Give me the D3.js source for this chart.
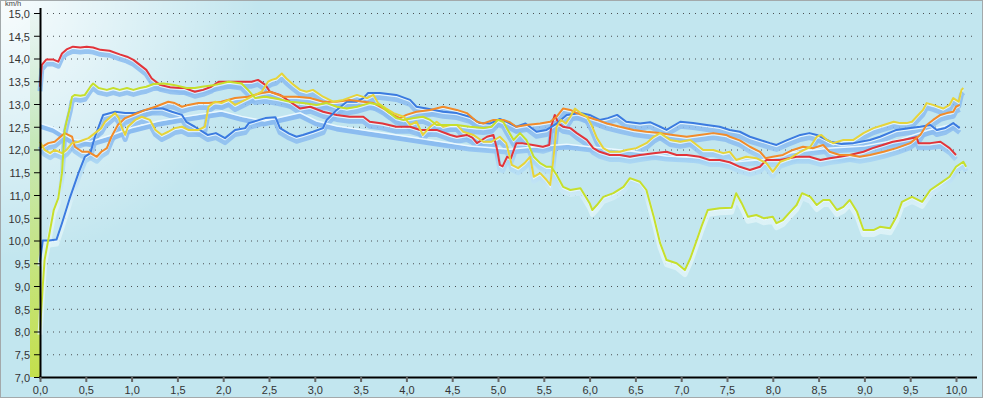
<!DOCTYPE html>
<html>
<head>
<meta charset="utf-8">
<script src="https://cdn.jsdelivr.net/npm/d3@7"></script>
<style>
  body { margin: 0; background: #c2e6ef; }
  svg { display: block; font-family: "Liberation Sans", Arial, sans-serif; }
</style>
</head>
<body>
<svg width="983" height="398"></svg>
<script>
// km vs km/h, one array of [km, speed] per lap
var red = [
  [0,13.38],[0.02,13.86],[0.07,13.98],[0.14,13.98],[0.2,13.93],[0.24,14.11],[0.29,14.2],[0.36,14.26],[0.44,14.24],[0.51,14.26],
  [0.58,14.24],[0.66,14.19],[0.76,14.17],[0.87,14.09],[0.95,14.04],[1.02,13.97],[1.09,13.86],[1.16,13.75],[1.22,13.56],[1.31,13.42],
  [1.42,13.37],[1.53,13.35],[1.58,13.35],[1.69,13.27],[1.78,13.31],[1.87,13.38],[1.95,13.49],[2.13,13.49],[2.31,13.49],[2.38,13.53],
  [2.46,13.42],[2.51,13.27],[2.62,13.2],[2.73,13.05],[2.84,12.9],[2.95,12.94],[3.09,12.83],[3.24,12.76],[3.38,12.72],[3.53,12.72],
  [3.6,12.61],[3.74,12.57],[3.89,12.5],[4.04,12.5],[4.15,12.43],[4.33,12.43],[4.48,12.32],[4.55,12.28],[4.66,12.32],[4.72,12.26],
  [4.77,12.14],[4.88,12.28],[4.95,12.32],[4.99,12.0],[5.02,11.66],[5.05,11.63],[5.1,11.84],[5.14,11.8],[5.2,12.14],[5.26,12.14],
  [5.38,12.1],[5.49,12.06],[5.56,12.1],[5.58,12.5],[5.62,12.76],[5.66,12.57],[5.71,12.5],[5.79,12.47],[5.86,12.36],[5.97,12.21],
  [6.04,12.03],[6.11,11.95],[6.22,11.88],[6.33,11.88],[6.44,11.84],[6.55,11.88],[6.7,11.92],[6.84,11.95],[6.95,11.88],[7.06,11.88],
  [7.2,11.84],[7.31,11.77],[7.42,11.77],[7.53,11.72],[7.64,11.62],[7.75,11.55],[7.86,11.62],[7.93,11.77],[8.08,11.77],[8.26,11.84],
  [8.4,11.84],[8.52,11.77],[8.62,11.81],[8.73,11.84],[8.84,11.88],[8.99,11.95],[9.09,12.03],[9.2,12.1],[9.31,12.17],[9.42,12.21],
  [9.57,12.27],[9.59,12.14],[9.72,12.14],[9.83,12.17],[9.93,12.03],[10.0,11.88]
];

var blue = [
  [0,9.53],[0.03,10.0],[0.1,10.0],[0.18,10.02],[0.24,10.38],[0.33,10.96],[0.42,11.48],[0.49,11.84],[0.55,11.92],[0.6,12.28],
  [0.69,12.76],[0.82,12.83],[0.93,12.8],[1.04,12.8],[1.12,12.85],[1.22,12.9],[1.34,12.9],[1.44,12.83],[1.55,12.76],[1.6,12.6],
  [1.69,12.5],[1.83,12.32],[1.92,12.36],[2.02,12.25],[2.13,12.43],[2.24,12.47],[2.28,12.58],[2.46,12.69],[2.57,12.71],[2.62,12.47],
  [2.72,12.35],[2.8,12.28],[2.87,12.32],[2.98,12.39],[3.09,12.47],[3.13,12.65],[3.24,12.87],[3.35,13.05],[3.46,13.05],[3.53,13.13],
  [3.58,13.24],[3.71,13.24],[3.89,13.2],[4.04,13.09],[4.11,12.94],[4.22,12.9],[4.4,12.83],[4.55,12.8],[4.69,12.72],[4.8,12.58],
  [4.91,12.57],[5.02,12.67],[5.1,12.6],[5.2,12.5],[5.3,12.57],[5.42,12.39],[5.53,12.43],[5.64,12.57],[5.75,12.76],[5.9,12.8],
  [6.0,12.76],[6.11,12.65],[6.2,12.69],[6.3,12.76],[6.4,12.61],[6.55,12.57],[6.66,12.6],[6.77,12.5],[6.84,12.43],[6.99,12.61],
  [7.13,12.58],[7.28,12.54],[7.42,12.5],[7.53,12.43],[7.64,12.39],[7.75,12.28],[7.86,12.21],[7.97,12.14],[8.04,12.1],[8.15,12.2],
  [8.3,12.32],[8.4,12.36],[8.48,12.32],[8.63,12.17],[8.75,12.12],[8.88,12.14],[9.06,12.21],[9.17,12.28],[9.35,12.43],[9.5,12.47],
  [9.61,12.5],[9.72,12.54],[9.79,12.43],[9.88,12.47],[9.97,12.58],[10.04,12.47]
];

var orange = [
  [0,12.03],[0.09,12.14],[0.16,12.17],[0.27,12.36],[0.35,12.28],[0.38,12.06],[0.46,11.95],[0.53,11.95],[0.62,11.84],[0.67,11.95],
  [0.73,12.03],[0.78,12.28],[0.85,12.54],[0.93,12.69],[1.04,12.78],[1.15,12.87],[1.26,12.94],[1.4,13.05],[1.47,13.02],[1.55,12.94],
  [1.62,12.98],[1.73,13.02],[1.84,13.02],[1.98,13.05],[2.13,13.13],[2.27,13.16],[2.42,13.24],[2.51,13.27],[2.66,13.16],[2.8,13.16],
  [2.95,13.13],[3.09,13.05],[3.24,13.05],[3.38,13.09],[3.53,13.05],[3.64,13.02],[3.75,12.9],[3.82,12.8],[3.93,12.69],[4.0,12.76],
  [4.11,12.83],[4.26,12.87],[4.4,12.94],[4.55,12.87],[4.66,12.8],[4.77,12.61],[4.84,12.57],[4.95,12.65],[5.06,12.65],[5.13,12.6],
  [5.2,12.5],[5.31,12.54],[5.46,12.57],[5.57,12.61],[5.64,12.72],[5.71,12.9],[5.79,12.87],[5.86,12.8],[5.97,12.72],[6.08,12.65],
  [6.19,12.57],[6.33,12.5],[6.48,12.43],[6.62,12.39],[6.77,12.36],[6.91,12.32],[7.06,12.28],[7.2,12.32],[7.35,12.36],[7.49,12.32],
  [7.53,12.28],[7.64,12.2],[7.75,12.06],[7.86,11.95],[7.92,11.81],[8.0,11.84],[8.11,11.88],[8.22,11.99],[8.33,12.06],[8.44,12.03],
  [8.55,12.1],[8.62,11.95],[8.73,11.88],[8.84,11.88],[8.95,11.84],[9.06,11.88],[9.21,11.95],[9.35,12.03],[9.5,12.14],[9.61,12.32],
  [9.68,12.54],[9.75,12.65],[9.83,12.76],[9.9,12.8],[9.97,12.83],[10.0,12.94],[10.04,12.98]
];

var yellow = [
  [0,12.17],[0.05,11.99],[0.11,11.92],[0.16,11.99],[0.24,11.92],[0.29,11.99],[0.35,12.14],[0.42,12.17],[0.53,12.25],[0.6,12.36],
  [0.67,12.47],[0.71,12.61],[0.82,12.8],[0.86,12.69],[0.89,12.5],[0.93,12.32],[0.96,12.5],[1.04,12.65],[1.11,12.72],[1.2,12.65],
  [1.26,12.43],[1.33,12.32],[1.4,12.39],[1.47,12.47],[1.55,12.5],[1.62,12.43],[1.73,12.43],[1.8,12.5],[1.84,12.94],[1.91,13.05],
  [1.98,13.02],[2.06,13.09],[2.13,12.98],[2.24,13.09],[2.31,13.16],[2.42,13.27],[2.49,13.49],[2.53,13.53],[2.58,13.56],[2.64,13.67],
  [2.69,13.56],[2.77,13.42],[2.84,13.31],[2.91,13.27],[2.98,13.31],[3.09,13.16],[3.2,13.05],[3.31,13.09],[3.46,13.2],[3.57,13.13],
  [3.64,13.2],[3.69,13.02],[3.78,12.9],[3.86,12.8],[3.97,12.72],[4.04,12.54],[4.11,12.61],[4.18,12.32],[4.26,12.5],[4.33,12.61],
  [4.4,12.5],[4.48,12.54],[4.55,12.54],[4.62,12.39],[4.73,12.32],[4.84,12.17],[4.93,12.17],[5.02,12.28],[5.09,12.14],[5.15,11.66],
  [5.22,11.59],[5.29,11.7],[5.35,11.84],[5.39,11.4],[5.46,11.48],[5.53,11.33],[5.57,11.22],[5.6,11.7],[5.64,12.5],[5.69,12.65],
  [5.74,12.57],[5.79,12.72],[5.84,12.9],[5.9,12.8],[5.97,12.72],[6.02,12.54],[6.08,12.25],[6.15,12.03],[6.22,11.95],[6.33,11.95],
  [6.4,11.99],[6.51,12.03],[6.62,12.14],[6.7,12.28],[6.77,12.36],[6.88,12.21],[6.99,12.17],[7.1,12.21],[7.17,12.1],[7.24,11.99],
  [7.35,11.99],[7.46,11.92],[7.53,11.95],[7.6,11.77],[7.71,11.84],[7.82,11.81],[7.93,11.7],[8.0,11.51],[8.08,11.73],[8.19,11.81],
  [8.3,11.95],[8.41,12.06],[8.48,12.28],[8.53,12.32],[8.59,12.21],[8.66,12.14],[8.77,12.21],[8.88,12.21],[8.99,12.36],[9.1,12.47],
  [9.21,12.54],[9.32,12.61],[9.39,12.58],[9.46,12.58],[9.52,12.61],[9.57,12.72],[9.64,12.87],[9.68,13.02],[9.75,12.98],[9.86,12.9],
  [9.93,12.98],[9.97,13.13],[10.03,13.05],[10.06,13.31],[10.08,13.35]
];

var lime = [
  [0,8.03],[0.03,8.99],[0.05,9.57],[0.11,10.23],[0.15,10.67],[0.2,10.93],[0.24,11.48],[0.27,12.43],[0.29,12.61],[0.33,12.94],
  [0.35,13.16],[0.38,13.2],[0.44,13.18],[0.49,13.2],[0.55,13.38],[0.58,13.45],[0.64,13.35],[0.73,13.31],[0.8,13.35],[0.87,13.31],
  [0.95,13.35],[1.02,13.31],[1.09,13.35],[1.16,13.38],[1.24,13.44],[1.35,13.45],[1.46,13.42],[1.6,13.35],[1.69,13.35],[1.77,13.38],
  [1.91,13.42],[2.06,13.49],[2.2,13.45],[2.27,13.31],[2.35,13.13],[2.46,13.16],[2.6,13.11],[2.73,13.05],[2.87,13.02],[3.02,12.98],
  [3.13,13.02],[3.24,12.94],[3.35,12.9],[3.46,12.94],[3.6,13.02],[3.71,12.98],[3.82,12.8],[3.89,12.69],[3.97,12.65],[4.08,12.69],
  [4.18,12.72],[4.26,12.65],[4.33,12.54],[4.44,12.54],[4.55,12.54],[4.69,12.5],[4.84,12.47],[4.93,12.5],[5.0,12.65],[5.06,12.6],
  [5.1,12.45],[5.17,12.21],[5.24,12.36],[5.31,12.21],[5.39,11.84],[5.46,11.7],[5.53,11.62],[5.58,11.62],[5.64,11.44],[5.71,11.18],
  [5.79,11.11],[5.9,11.15],[6.0,10.82],[6.03,10.67],[6.08,10.78],[6.15,10.96],[6.26,11.04],[6.37,11.18],[6.44,11.37],[6.55,11.29],
  [6.62,11.11],[6.7,10.52],[6.77,9.94],[6.84,9.57],[6.95,9.5],[7.04,9.35],[7.1,9.61],[7.17,10.01],[7.22,10.3],[7.29,10.67],
  [7.42,10.71],[7.55,10.72],[7.6,11.04],[7.66,10.82],[7.73,10.52],[7.82,10.56],[7.9,10.49],[8.0,10.52],[8.04,10.38],[8.11,10.45],
  [8.19,10.63],[8.26,10.78],[8.32,11.04],[8.41,10.96],[8.48,10.78],[8.55,10.89],[8.62,10.89],[8.7,10.67],[8.77,10.74],[8.84,10.89],
  [8.92,10.63],[8.99,10.23],[9.1,10.23],[9.17,10.3],[9.28,10.27],[9.35,10.52],[9.41,10.85],[9.52,10.96],[9.63,10.85],[9.72,11.11],
  [9.83,11.26],[9.93,11.4],[10.0,11.62],[10.08,11.73],[10.11,11.62]
];

// pale average lap, only visible as a light band
var average = [
  [0,12.6],[0.15,12.5],[0.35,12.25],[0.55,12.2],[0.8,12.35],[1.0,12.5],[1.3,12.65],[1.6,12.75],[1.98,12.87],[2.2,12.75],
  [2.45,12.65],[2.6,12.72],[2.84,12.83],[3.02,12.65],[3.24,12.54],[3.6,12.43],[3.97,12.32],[4.33,12.21],[4.69,12.1],[5.13,12.03],
  [5.5,12.1],[5.75,12.14],[6.0,12.08],[6.4,12.0],[6.84,11.88],[7.2,11.84],[7.57,11.75],[7.9,11.8],[8.2,11.95],[8.6,12.05],
  [9.0,12.1],[9.4,12.25],[9.7,12.45],[10.0,12.6]
];

var xTicks = [0,0.5,1,1.5,2,2.5,3,3.5,4,4.5,5,5.5,6,6.5,7,7.5,8,8.5,9,9.5,10];
var yTicks = [7,7.5,8,8.5,9,9.5,10,10.5,11,11.5,12,12.5,13,13.5,14,14.5,15];

var series = [
  {data: red, color: '#e2343a'},
  {data: blue, color: '#3b7be0'},
  {data: orange, color: '#f28b2a'},
  {data: yellow, color: '#e6d43a'},
  {data: lime, color: '#c6df2c'}
];

var comma = d3.formatLocale({decimal: ',', thousands: '.', grouping: [3], currency: ['', '']}).format('.1f');

var x = d3.scaleLinear().domain([0, 10]).range([40, 956]);
var y = d3.scaleLinear().domain([7, 15]).range([377, 13]);

var svg = d3.select('svg');
var defs = svg.append('defs');

var glow = defs.append('radialGradient')
   .attr('id', 'glow').attr('cx', 0).attr('cy', 0).attr('r', 260)
   .attr('gradientUnits', 'userSpaceOnUse');
glow.append('stop').attr('offset', 0).attr('stop-color', '#ffffff').attr('stop-opacity', 0.9);
glow.append('stop').attr('offset', 1).attr('stop-color', '#ffffff').attr('stop-opacity', 0);

var band = defs.append('linearGradient')
   .attr('id', 'band').attr('x1', 0).attr('y1', 0).attr('x2', 0).attr('y2', 1);
band.append('stop').attr('offset', 0).attr('stop-color', '#d6eede').attr('stop-opacity', 0.3);
band.append('stop').attr('offset', 0.35).attr('stop-color', '#c6e8b8');
band.append('stop').attr('offset', 1).attr('stop-color', '#c4e04c');

// shadow colour fades from blue to almost white in the slow part of the chart
var shade = defs.append('linearGradient')
   .attr('id', 'shade').attr('gradientUnits', 'userSpaceOnUse')
   .attr('x1', 0).attr('x2', 0).attr('y1', y(12.2)).attr('y2', y(10.8));
shade.append('stop').attr('offset', 0).attr('stop-color', '#8bbcf0');
shade.append('stop').attr('offset', 0.3).attr('stop-color', '#a9d6f4');
shade.append('stop').attr('offset', 1).attr('stop-color', '#e0f4f8');

var line = d3.line()
   .x(function (d) { return x(d[0]); })
   .y(function (d) { return y(d[1]); });

// background
svg.append('rect')
   .attr('x', 0.5).attr('y', 0.5).attr('width', 982).attr('height', 397)
   .attr('fill', '#c2e6ef').attr('stroke', '#a3a9ab');
svg.append('rect')
   .attr('x', 1).attr('y', 1).attr('width', 300).attr('height', 260)
   .attr('fill', 'url(#glow)');
svg.append('rect')
   .attr('x', 30).attr('y', 13).attr('width', 10).attr('height', 364)
   .attr('fill', 'url(#band)');

// dotted grid
for (var i = 1; i < yTicks.length; i++) {
  svg.append('line')
     .attr('x1', 47).attr('x2', 975)
     .attr('y1', y(yTicks[i]) + 0.5).attr('y2', y(yTicks[i]) + 0.5)
     .attr('stroke', '#4a4f52')
     .attr('stroke-width', 1)
     .attr('stroke-dasharray', '1,5');
}

// shadows, then light halos, then the laps themselves
var plot = svg.append('g');

plot.append('path')
   .attr('d', line(average))
   .attr('transform', 'translate(0,4)')
   .attr('fill', 'none')
   .attr('stroke', 'url(#shade)')
   .attr('stroke-width', 5)
   .attr('stroke-linejoin', 'round');

series.forEach(function (s) {
  plot.append('path')
     .attr('d', line(s.data))
     .attr('transform', 'translate(0,4.5)')
     .attr('fill', 'none')
     .attr('stroke', 'url(#shade)')
     .attr('stroke-opacity', 0.85)
     .attr('stroke-width', 5)
     .attr('stroke-linejoin', 'round');
});

plot.append('path')
   .attr('d', line(average))
   .attr('transform', 'translate(0,1)')
   .attr('fill', 'none')
   .attr('stroke', '#eaf8ff')
   .attr('stroke-width', 1.5);

series.forEach(function (s) {
  plot.append('path')
     .attr('d', line(s.data))
     .attr('transform', 'translate(0,1.5)')
     .attr('fill', 'none')
     .attr('stroke', '#eef9ff')
     .attr('stroke-opacity', 0.8)
     .attr('stroke-width', 1.5);
});

series.forEach(function (s) {
  plot.append('path')
     .attr('d', line(s.data))
     .attr('fill', 'none')
     .attr('stroke', s.color)
     .attr('stroke-width', 2)
     .attr('stroke-linejoin', 'round');
});

// axes
var yAxis = svg.append('g')
   .attr('transform', 'translate(40,0)')
   .call(d3.axisLeft(y).tickValues(yTicks).tickFormat(comma).tickSize(6).tickSizeOuter(0));
yAxis.select('.domain').attr('d', 'M0.5,8V377').attr('stroke', '#000').attr('stroke-width', 2);
yAxis.selectAll('.tick line').attr('stroke', '#000').attr('stroke-width', 1);
yAxis.selectAll('.tick text')
   .attr('x', -10)
   .attr('dy', '0.4em')
   .attr('fill', '#333')
   .style('font-size', '11px');

var xAxis = svg.append('g')
   .attr('transform', 'translate(0,377)')
   .call(d3.axisBottom(x).tickValues(xTicks).tickFormat(comma).tickSize(5).tickSizeOuter(0));
xAxis.select('.domain').attr('d', 'M39,0.5H977').attr('stroke', '#000').attr('stroke-width', 2);
xAxis.selectAll('.tick line').attr('stroke', '#666').attr('stroke-width', 2);
xAxis.selectAll('.tick text')
   .attr('y', 9)
   .attr('fill', '#333')
   .style('font-size', '11px');

svg.append('text')
   .attr('x', 5).attr('y', 6)
   .attr('fill', '#444')
   .style('font-size', '7.5px')
   .text('km/h');
</script>
</body>
</html>
